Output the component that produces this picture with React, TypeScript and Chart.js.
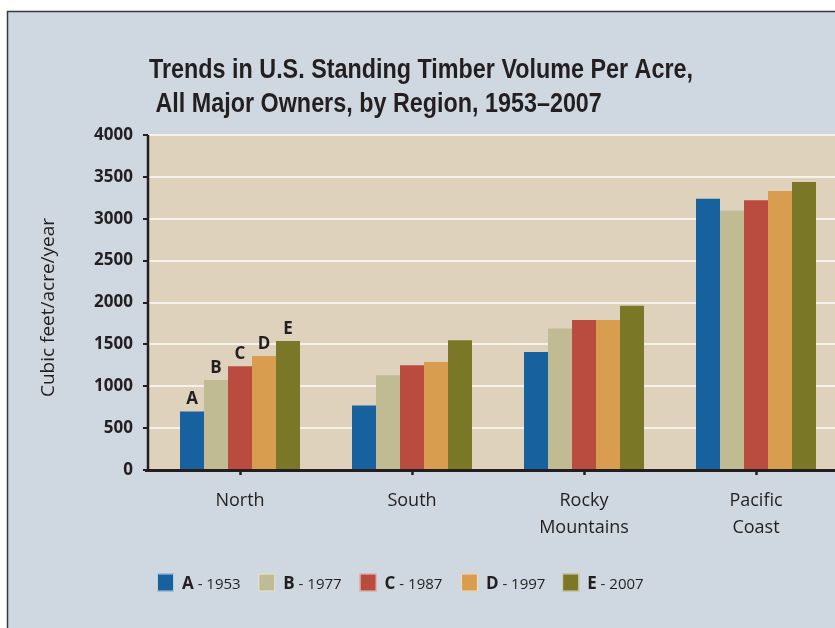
import React, { useEffect, useRef } from "react";
import { Chart, registerables } from "chart.js";

Chart.register(...registerables);

// ---------- data ----------
const TITLE_LINES = [
  "Trends in U.S. Standing Timber Volume Per Acre,",
  " All Major Owners, by Region, 1953–2007",
];
const Y_AXIS_TITLE = "Cubic feet/acre/year";
const REGIONS = [["North"], ["South"], ["Rocky", "Mountains"], ["Pacific", "Coast"]];
const SERIES_LETTERS = ["A", "B", "C", "D", "E"];
const SERIES_YEARS = ["1953", "1977", "1987", "1997", "2007"];
const SERIES_COLORS = ["#17619f", "#c0bb93", "#b94c3f", "#d99d50", "#7a7826"];
const A_1953 = [700, 770, 1410, 3240];
const B_1977 = [1075, 1130, 1690, 3100];
const C_1987 = [1240, 1250, 1790, 3220];
const D_1997 = [1360, 1290, 1790, 3330];
const E_2007 = [1540, 1550, 1960, 3440];
const SERIES_VALUES = [A_1953, B_1977, C_1987, D_1997, E_2007];
const Y_MIN = 0;
const Y_MAX = 4000;
const Y_STEP = 500;

// ---------- styles ----------
const INK = "#231f20";
const PANEL_BG = "#cfd8e1";
const PLOT_BG = "#dfd2bc";
const GRID = "#f6f1e9";
const SANS = "'Open Sans', 'DejaVu Sans', sans-serif";

const CANVAS_W = 850;
const CANVAS_H = 628;

const decorPlugin = {
  id: "decor",
  beforeDraw(chart: any) {
    const { ctx, chartArea, scales } = chart;
    const W = chart.width;
    const H = chart.height;
    ctx.save();
    ctx.fillStyle = "#ffffff";
    ctx.fillRect(0, 0, W, H);
    // panel
    ctx.fillStyle = PANEL_BG;
    ctx.fillRect(7, 11, W - 7, H - 11);
    ctx.strokeStyle = "#3a3a3a";
    ctx.lineWidth = 1.5;
    ctx.beginPath();
    ctx.moveTo(7.5, H);
    ctx.lineTo(7.5, 11.5);
    ctx.lineTo(W, 11.5);
    ctx.stroke();

    // plot background
    const x0 = chartArea.left - 5;
    ctx.fillStyle = PLOT_BG;
    ctx.fillRect(x0, chartArea.top, W - x0, chartArea.bottom - chartArea.top);

    // grid lines
    const ys = scales.y;
    ctx.strokeStyle = GRID;
    ctx.lineWidth = 2;
    for (let v = Y_MIN + Y_STEP; v <= Y_MAX; v += Y_STEP) {
      const y = Math.round(ys.getPixelForValue(v));
      ctx.beginPath();
      ctx.moveTo(x0, y);
      ctx.lineTo(W, y);
      ctx.stroke();
    }

    // title
    ctx.fillStyle = INK;
    ctx.textBaseline = "alphabetic";
    ctx.textAlign = "left";
    ctx.font = "bold 27px 'Liberation Sans', Arial, sans-serif";
    const w0 = ctx.measureText(TITLE_LINES[0]).width;
    const sx = 544 / w0;
    TITLE_LINES.forEach((line, i) => {
      ctx.save();
      ctx.translate(149, 78 + i * 34);
      ctx.scale(sx, 1);
      ctx.fillText(line, 0, 0);
      ctx.restore();
    });
    ctx.restore();
  },
  afterDatasetsDraw(chart: any) {
    const { ctx, chartArea, scales } = chart;
    const W = chart.width;
    const ys = scales.y;
    ctx.save();
    ctx.strokeStyle = INK;
    // y axis line
    ctx.lineWidth = 2.5;
    ctx.beginPath();
    ctx.moveTo(chartArea.left - 6, chartArea.top);
    ctx.lineTo(chartArea.left - 6, chartArea.bottom + 1);
    ctx.stroke();
    // y tick marks
    ctx.lineWidth = 2;
    for (let v = Y_MIN; v <= Y_MAX; v += Y_STEP) {
      const y = Math.round(ys.getPixelForValue(v));
      ctx.beginPath();
      ctx.moveTo(chartArea.left - 11, y);
      ctx.lineTo(chartArea.left - 6, y);
      ctx.stroke();
    }
    // x axis line
    ctx.lineWidth = 3;
    ctx.beginPath();
    ctx.moveTo(chartArea.left - 9, chartArea.bottom + 0.5);
    ctx.lineTo(W, chartArea.bottom + 0.5);
    ctx.stroke();

    // letters above first-category bars
    ctx.fillStyle = INK;
    ctx.font = `bold 17px ${SANS}`;
    ctx.textAlign = "center";
    ctx.textBaseline = "alphabetic";
    chart.data.datasets.forEach((_ds: any, i: number) => {
      const meta = chart.getDatasetMeta(i);
      const bar = meta.data[0];
      if (bar) ctx.fillText(SERIES_LETTERS[i], bar.x, bar.y - 7);
    });
    ctx.restore();
  },
  afterDraw(chart: any) {
    const { ctx, chartArea } = chart;
    ctx.save();
    // y axis title
    ctx.fillStyle = INK;
    ctx.font = `19px ${SANS}`;
    ctx.textAlign = "center";
    ctx.textBaseline = "middle";
    ctx.translate(49, (chartArea.top + chartArea.bottom) / 2 + 5);
    ctx.rotate(-Math.PI / 2);
    ctx.fillText(Y_AXIS_TITLE, 0, 0);
    ctx.restore();

    // legend
    ctx.save();
    const yc = 582.5;
    SERIES_LETTERS.forEach((letter, i) => {
      const bx = 157 + i * 101.3;
      ctx.fillStyle = SERIES_COLORS[i];
      ctx.fillRect(bx, yc - 9, 17, 18);
      ctx.strokeStyle = "rgba(255,255,255,0.7)";
      ctx.lineWidth = 1;
      ctx.strokeRect(bx + 0.5, yc - 8.5, 16, 17);
      ctx.fillStyle = INK;
      ctx.textAlign = "left";
      ctx.textBaseline = "alphabetic";
      ctx.font = `bold 17px ${SANS}`;
      const tx = bx + 25;
      ctx.fillText(letter, tx, yc + 6.5);
      const lw = ctx.measureText(letter).width;
      ctx.font = `15px ${SANS}`;
      ctx.fillText(" - " + SERIES_YEARS[i], tx + lw, yc + 6.5);
    });
    ctx.restore();
  },
};

export default function App() {
  const canvasRef = useRef<HTMLCanvasElement | null>(null);

  useEffect(() => {
    const canvas = canvasRef.current;
    if (!canvas) return;
    const chart = new Chart(canvas, {
      type: "bar",
      data: {
        labels: REGIONS,
        datasets: SERIES_VALUES.map((vals, i) => ({
          label: `${SERIES_LETTERS[i]} - ${SERIES_YEARS[i]}`,
          data: vals,
          backgroundColor: SERIES_COLORS[i],
          borderWidth: 0,
          categoryPercentage: 120 / 172,
          barPercentage: 1.0,
        })),
      },
      options: {
        responsive: false,
        animation: false,
        devicePixelRatio: 1,
        layout: { padding: { top: 135, right: 8, bottom: 0, left: 0 } },
        plugins: {
          legend: { display: false },
          title: { display: false },
          tooltip: { enabled: false },
        },
        scales: {
          x: {
            type: "category",
            offset: true,
            border: { display: false },
            grid: {
              offset: false,
              drawOnChartArea: false,
              drawTicks: true,
              tickLength: 5,
              tickColor: INK,
              tickWidth: 2.5,
              color: INK,
            },
            ticks: {
              autoSkip: false,
              maxRotation: 0,
              minRotation: 0,
              padding: 12,
              color: INK,
              font: { family: SANS, size: 18, weight: "500", lineHeight: 1.5 },
            },
            afterFit: (scale: any) => {
              scale.height = 158;
            },
          },
          y: {
            min: Y_MIN,
            max: Y_MAX,
            border: { display: false },
            grid: { display: false, drawTicks: false },
            ticks: {
              stepSize: Y_STEP,
              padding: 21,
              color: INK,
              font: { family: SANS, size: 17, weight: "bold" },
              callback: (value: any) => String(value),
            },
            afterFit: (scale: any) => {
              scale.width = 154;
            },
          },
        },
      },
      plugins: [decorPlugin],
    });
    return () => chart.destroy();
  }, []);

  return (
    <div
      style={{
        position: "fixed",
        left: 0,
        top: 0,
        width: 835,
        height: 628,
        overflow: "hidden",
        background: "#ffffff",
      }}
    >
      <canvas
        ref={canvasRef}
        width={CANVAS_W}
        height={CANVAS_H}
        style={{ display: "block", width: CANVAS_W, height: CANVAS_H }}
      />
    </div>
  );
}
